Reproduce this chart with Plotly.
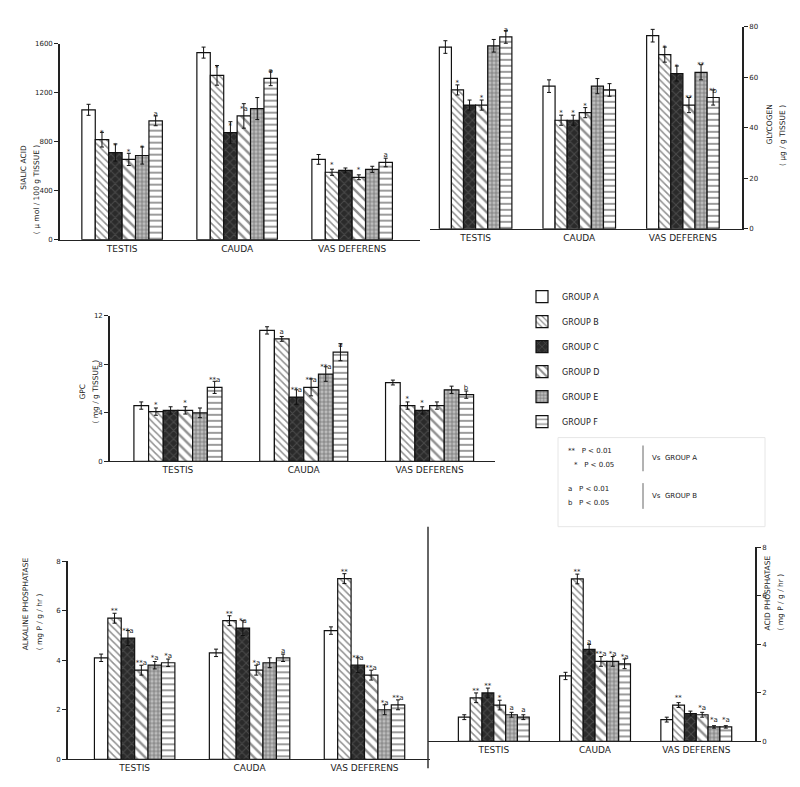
import plotly.graph_objects as go

# page has an 8px body margin, so the figure is drawn 8px in from the corner
OFF = 8
W, H = 800 - OFF, 787 - OFF

tissues = ["TESTIS", "CAUDA", "VAS DEFERENS"]
groups = ["GROUP A", "GROUP B", "GROUP C", "GROUP D", "GROUP E", "GROUP F"]

# ---- values: rows = groups A..F, columns = testis, cauda, vas deferens ----
sialic_vals = [[1060, 1527, 655], [816, 1341, 550], [711, 873, 565],
               [655, 1010, 509], [687, 1070, 574], [970, 1317, 630]]
sialic_errs = [[45, 45, 40], [60, 80, 25], [70, 90, 20],
               [50, 100, 20], [70, 90, 25], [40, 60, 35]]
sialic_sig = [["", "", ""], ["*", "*", "*"], ["*", "*", ""],
              ["*", "*a", "*"], ["*", "", ""], ["a", "a", "a"]]

glycogen_vals = [[72, 56.5, 76.5], [55, 43, 69], [49, 43, 61.5],
                 [49, 46, 49], [72.5, 56.5, 62], [76, 55, 52]]
glycogen_errs = [[2.5, 2.5, 2.5], [2, 2, 3], [2, 2, 3],
                 [2, 2, 3], [2.5, 3, 3], [2.5, 2.5, 3]]
glycogen_sig = [["", "", ""], ["*", "*", "*"], ["", "*", "*"],
                ["*", "*", "**"], ["", "", "**"], ["a", "", "*b"]]

gpc_vals = [[4.6, 10.8, 6.5], [4.1, 10.1, 4.6], [4.2, 5.3, 4.2],
            [4.2, 6.1, 4.6], [4.0, 7.2, 5.9], [6.1, 9.0, 5.5]]
gpc_errs = [[0.3, 0.3, 0.2], [0.3, 0.2, 0.3], [0.3, 0.6, 0.3],
            [0.3, 0.7, 0.3], [0.4, 0.6, 0.3], [0.5, 0.7, 0.3]]
gpc_sig = [["", "", ""], ["*", "a", "*"], ["", "**a", "*"],
           ["*", "**a", ""], ["", "**a", ""], ["**a", "a", "b"]]

alp_vals = [[4.1, 4.3, 5.2], [5.7, 5.6, 7.3], [4.9, 5.3, 3.8],
            [3.6, 3.6, 3.4], [3.8, 3.9, 2.0], [3.9, 4.1, 2.2]]
alp_errs = [[0.15, 0.15, 0.15], [0.2, 0.2, 0.2], [0.3, 0.3, 0.3],
            [0.2, 0.2, 0.2], [0.15, 0.2, 0.2], [0.15, 0.15, 0.2]]
alp_sig = [["", "", ""], ["**", "**", "**"], ["**a", "*a", "**a"],
           ["**a", "*a", "**a"], ["*a", "", "*a"], ["*a", "a", "**a"]]

acp_vals = [[1.0, 2.7, 0.9], [1.8, 6.7, 1.5], [2.0, 3.8, 1.15],
            [1.5, 3.3, 1.1], [1.1, 3.3, 0.6], [1.0, 3.2, 0.6]]
acp_errs = [[0.1, 0.15, 0.1], [0.2, 0.2, 0.1], [0.2, 0.2, 0.1],
            [0.2, 0.2, 0.1], [0.1, 0.2, 0.05], [0.1, 0.2, 0.05]]
acp_sig = [["", "", ""], ["**", "**", "**"], ["**", "a", ""],
           ["*", "**a", "*a"], ["a", "*a", "*a"], ["a", "*a", "*a"]]

# ---- styles for groups ----
styles = [
    dict(shape="", fg="#111", bg="white", size=6, sol=0.2),
    dict(shape="\\", fg="#222", bg="white", size=5, sol=0.3),
    dict(shape="x", fg="#6a6a6a", bg="#2a2a2a", size=6, sol=0.3),
    dict(shape="\\", fg="#222", bg="white", size=7, sol=0.35),
    dict(shape="+", fg="#2a2a2a", bg="#bdbdbd", size=4, sol=0.35),
    dict(shape="-", fg="#222", bg="white", size=6, sol=0.3),
]

FONT = "DejaVu Sans"
TXT = "#222"

def px(x):
    return (x - OFF) / W

def py(y):
    return 1 - (y - OFF) / H

panels = [
    dict(vals=sialic_vals, errs=sialic_errs, sig=sialic_sig, xd=(60, 420), yd=(40, 238),
         xr=(-0.54, 2.59), yr=(0, 1600), tv=[0, 400, 800, 1200, 1600], side="left"),
    dict(vals=glycogen_vals, errs=glycogen_errs, sig=glycogen_sig, xd=(430, 742), yd=(23, 227),
         xr=(-0.44, 2.57), yr=(0, 80), tv=[0, 20, 40, 60, 80], side="right"),
    dict(vals=gpc_vals, errs=gpc_errs, sig=gpc_sig, xd=(110, 495), yd=(315, 462),
         xr=(-0.54, 2.52), yr=(0, 12), tv=[0, 4, 8, 12], side="left"),
    dict(vals=alp_vals, errs=alp_errs, sig=alp_sig, xd=(68, 430), yd=(563, 763),
         xr=(-0.58, 2.57), yr=(0, 8), tv=[0, 2, 4, 6, 8], side="left"),
    dict(vals=acp_vals, errs=acp_errs, sig=acp_sig, xd=(428, 755), yd=(549, 745),
         xr=(-0.65, 2.58), yr=(0, 8), tv=[0, 2, 4, 6, 8], side="right"),
]

fig = go.Figure()
layout = {}
for i, p in enumerate(panels):
    n = "" if i == 0 else str(i + 1)
    for g, name in enumerate(groups):
        s = styles[g]
        fig.add_trace(go.Bar(
            x=tissues, y=p["vals"][g], name=name, legendgroup=name,
            showlegend=(i == 0), xaxis="x" + n, yaxis="y" + n,
            marker=dict(color=s["bg"], line=dict(color="#111", width=1.2),
                        pattern=dict(shape=s["shape"], fgcolor=s["fg"], bgcolor=s["bg"],
                                     size=s["size"], solidity=s["sol"])),
            error_y=dict(type="data", array=p["errs"][g], color="#111", thickness=1, width=2),
            text=p["sig"][g], textposition="outside", cliponaxis=False,
            constraintext="none", textfont=dict(size=7, color=TXT, family=FONT),
        ))
    layout["xaxis" + n] = dict(
        domain=[px(p["xd"][0]), px(p["xd"][1])], anchor="y" + n, range=list(p["xr"]),
        showline=True, linecolor="#222", linewidth=1.3, ticks="", showgrid=False,
        zeroline=False, tickfont=dict(size=9, color=TXT, family=FONT), type="category",
    )
    layout["yaxis" + n] = dict(
        domain=[py(p["yd"][1]), py(p["yd"][0])], anchor="x" + n, range=list(p["yr"]),
        side=p["side"], showline=True, linecolor="#222", linewidth=1.6, ticks="outside",
        ticklen=4, tickcolor="#222", tickvals=p["tv"], showgrid=False, zeroline=False,
        tickfont=dict(size=7, color=TXT, family=FONT),
    )

ann = []
def vlabel(x, y, text, size=7.5):
    ann.append(dict(x=px(x), y=py(y), xref="paper", yref="paper", text=text,
                    textangle=-90, showarrow=False, font=dict(size=size, color=TXT, family=FONT)))

vlabel(17, 140, "SIALIC ACID")
vlabel(30, 140, "( µ mol / 100 g TISSUE )")
vlabel(776, 100, "GLYCOGEN")
vlabel(789, 100, "( µg / g TISSUE )")
vlabel(76, 392, "GPC")
vlabel(89, 392, "( mg / g TISSUE )")
vlabel(19, 655, "ALKALINE PHOSPHATASE")
vlabel(33, 655, "( mg P / g / hr )")
vlabel(774, 635, "ACID PHOSPHATASE")
vlabel(787, 635, "( mg P / g / hr )")

def tlabel(x, y, text, size=7):
    ann.append(dict(x=px(x), y=py(y), xref="paper", yref="paper", text=text, xanchor="left",
                    showarrow=False, font=dict(size=size, color=TXT, family=FONT)))

tlabel(566, 452, "**   P < 0.01")
tlabel(572, 466, "*   P < 0.05")
tlabel(566, 490, "a   P < 0.01")
tlabel(566, 504, "b   P < 0.05")
tlabel(650, 459, "Vs  GROUP A")
tlabel(650, 497, "Vs  GROUP B")

shapes = [
    dict(type="line", xref="paper", yref="paper", x0=px(428), x1=px(428), y0=py(772), y1=py(528),
         line=dict(color="#333", width=1.5)),
    dict(type="line", xref="paper", yref="paper", x0=px(643), x1=px(643), y0=py(472), y1=py(446),
         line=dict(color="#666", width=1)),
    dict(type="line", xref="paper", yref="paper", x0=px(643), x1=px(643), y0=py(510), y1=py(484),
         line=dict(color="#666", width=1)),
    dict(type="rect", xref="paper", yref="paper", x0=px(558), x1=px(765), y0=py(528), y1=py(438),
         line=dict(color="#e6e6e6", width=1)),
]

fig.update_layout(
    **layout,
    width=W, height=H, margin=dict(l=0, r=0, t=0, b=0),
    paper_bgcolor="white", plot_bgcolor="rgba(0,0,0,0)",
    barmode="group", bargap=0.3, bargroupgap=0.0,
    font=dict(family=FONT, color=TXT),
    showlegend=True,
    legend=dict(x=px(522), y=py(281), xanchor="left", yanchor="top",
                font=dict(size=8, color=TXT, family=FONT), tracegroupgap=6,
                traceorder="grouped", bgcolor="rgba(0,0,0,0)", itemwidth=30),
    annotations=ann, shapes=shapes,
)

fig.write_html("out.html")
